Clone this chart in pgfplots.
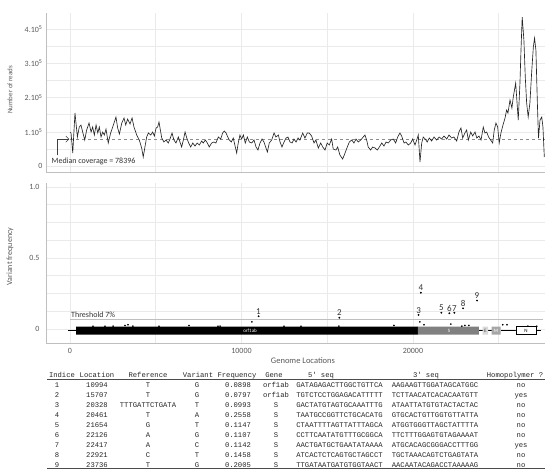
\documentclass[border=0pt]{standalone}
\usepackage{pgfplots}
\pgfplotsset{compat=1.18}
\usepackage{fontspec}
\setmainfont{Carlito}
\newfontfamily\tabfont{Liberation Mono}
\usetikzlibrary{arrows.meta}

\definecolor{gridc}{HTML}{EAEAEA}
\definecolor{axc}{HTML}{BFBFBF}
\definecolor{labc}{HTML}{595959}
\definecolor{sgray}{HTML}{808080}
\definecolor{egray}{HTML}{D9D9D9}
\definecolor{mgray}{HTML}{A6A6A6}

\pgfplotsset{
  panel/.style={
    scale only axis, anchor=south west, width=499pt,
    xmin=-1400, xmax=27700,
    axis x line*=bottom, axis y line*=left,
    axis line style={draw=axc, line width=0.8pt},
    major tick length=0pt, minor tick length=0pt,
    grid=both,
    major grid style={draw=gridc, line width=0.5pt},
    minor grid style={draw=gridc, line width=0.5pt},
    tick label style={font=\fontsize{8}{9}\selectfont, text=labc},
    scaled x ticks=false, scaled y ticks=false,
    clip=false,
  },
}

\begin{document}
\begin{tikzpicture}
\path[use as bounding box] (0pt,0pt) rectangle (550pt,475pt);

% coverage along the genome
\begin{axis}[panel,
  at={(46pt,303pt)}, height=159pt,
  ymin=-17500, ymax=447000,
  xtick={0,5000,...,25000}, xticklabels={},
  ytick={0,100000,200000,300000,400000},
  yticklabels={0,1.10\textsuperscript{5},2.10\textsuperscript{5},3.10\textsuperscript{5},4.10\textsuperscript{5}},
  minor ytick={50000,150000,250000,350000},
  ylabel={Number of reads},
  ylabel style={at={(axis description cs:-0.072,0.516)}, anchor=center, font=\fontsize{7}{8}\selectfont, text=labc},
]
\addplot[black!45, dashed, line width=0.6pt] coordinates {(0,78396) (27660,78396)};
\addplot[black!85, line width=0.65pt] coordinates {
(0,99300) (60,96400) (160,38000) (290,154800) (430,84700) (540,113900) (640,119700) (740,99300) (860,75900) (970,105100)
(1110,125600) (1230,99300) (1320,113900) (1420,90500) (1520,119700) (1620,96400) (1710,113900) (1810,84700) (1910,99300) (2000,90500)
(2100,108000) (2230,67200) (2370,96400) (2530,119700) (2680,143100) (2780,111000) (2880,93400) (3020,125600) (3150,140200) (3250,119700)
(3360,137200) (3500,122600) (3620,140200) (3730,113900) (3890,90500) (4040,75900) (4180,52600) (4270,26300) (4370,55500) (4470,84700)
(4570,96400) (4710,90500) (4820,99300) (4920,87600) (5020,111000) (5110,113900) (5190,128500) (5250,111000) (5350,81800) (5480,70100)
(5600,75900) (5730,67200) (5830,78800) (5950,96400) (6060,75900) (6180,67200) (6320,84700) (6410,70100) (6510,55500) (6610,75900)
(6710,99300) (6810,81800) (6920,67200) (7040,55500) (7160,67200) (7290,58400) (7420,67200) (7540,61300) (7680,73000) (7770,67200)
(7890,75900) (8010,67200) (8120,55500) (8260,67200) (8400,70100) (8510,67200) (8650,84700) (8790,78800) (8900,96400) (9000,102200)
(9100,96400) (9200,84700) (9290,75900) (9410,70100) (9520,81800) (9640,55500) (9720,38000) (9810,67200) (9910,90500) (10010,78800)
(10110,90500) (10220,67200) (10340,84700) (10460,70100) (10600,67200) (10730,75900) (10850,55500) (10960,46700) (11080,67200) (11200,78800)
(11310,70100) (11430,52600) (11510,40900) (11620,67200) (11760,75900) (11900,96400) (12010,84700) (12150,90500) (12250,70100) (12360,55500)
(12480,70100) (12600,81800) (12710,84700) (12830,70100) (12950,67200) (13060,78800) (13180,70100) (13300,81800) (13410,75900) (13570,96400)
(13700,81800) (13840,96400) (13950,96400) (14090,87600) (14230,67200) (14340,75900) (14480,52600) (14620,67200) (14740,55500) (14870,46700)
(15000,67200) (15120,61300) (15260,78800) (15350,49600) (15510,46700) (15610,55500) (15740,32100) (15900,20400) (16040,38000) (16170,55500)
(16290,70100) (16430,75900) (16560,67200) (16680,78800) (16810,70100) (16950,75900) (17100,84700) (17200,90500) (17300,75900) (17390,55500)
(17530,46700) (17650,55500) (17790,52600) (17920,46700) (18040,55500) (18180,67200) (18310,58400) (18430,70100) (18560,67200) (18700,75900)
(18850,78800) (18990,67200) (19110,84700) (19240,96400) (19340,87600) (19480,67200) (19590,70100) (19730,61300) (19870,67200) (19980,78800)
(20120,61300) (20220,75900) (20310,90500) (20410,11700) (20510,67200) (20600,84700) (20720,78800) (20830,70100) (20950,81800) (21090,73000)
(21230,84700) (21380,75900) (21530,84700) (21670,78800) (21810,87600) (21970,78800) (22100,90500) (22260,81800) (22390,84700) (22550,73000)
(22680,99300) (22800,111000) (22900,81800) (23030,96400) (23130,105100) (23230,75900) (23370,99300) (23480,87600) (23620,99300) (23720,81800)
(23850,87600) (23970,75900) (24100,113900) (24200,96400) (24300,99300) (24410,84700) (24530,75900) (24650,67200) (24740,105100) (24840,125600)
(24940,113900) (25030,67200) (25130,96400) (25250,119700) (25370,140200) (25460,163500) (25540,154800) (25660,192700) (25770,169400) (25850,201500)
(25990,242400) (26140,134300) (26240,242400) (26300,338700) (26370,435100) (26470,367900) (26550,259900) (26630,184000) (26720,143100) (26820,184000)
(26920,271600) (27020,347500) (27090,373800) (27170,338700) (27250,192700) (27320,81800) (27410,134300) (27510,143100) (27580,113900) (27660,26300)
};
\draw[black!75, line width=0.6pt, -{Straight Barb[length=3pt,width=6pt]}]
  (axis cs:-760,31000) -- (axis cs:-760,78396) -- (axis cs:-40,78396);
\node[anchor=west, inner sep=0pt, font=\fontsize{8}{9}\selectfont, text=black!80]
  at (axis cs:-1080,14000) {Median coverage = 78396};
\end{axis}

% variant frequencies and genome map
\begin{axis}[panel,
  at={(46pt,132pt)}, height=160pt,
  ymin=-0.0986, ymax=1.028,
  xtick={0,10000,20000}, xticklabels={0,10000,20000},
  minor xtick={5000,15000,25000},
  ytick={0,0.5,1}, yticklabels={0,0.5,1.0},
  minor ytick={0.125,0.25,0.375,0.625,0.75,0.875},
  xticklabel style={yshift=-2pt},
  yticklabel style={xshift=-3pt},
  xlabel={Genome Locations},
  xlabel style={at={(axis description cs:0.515,-0.113)}, anchor=center, font=\fontsize{8.5}{9}\selectfont, text=labc},
  ylabel={Variant frequency},
  ylabel style={at={(axis description cs:-0.072,0.54)}, anchor=center, font=\fontsize{8}{9}\selectfont, text=labc},
]
\addplot[axc, line width=0.8pt] coordinates {(0,0.07) (27600,0.07)};
\node[anchor=south west, inner sep=1pt, font=\fontsize{8}{9}\selectfont, text=black!80]
  at (axis cs:0,0.07) {Threshold 7\%};

% genome map
\addplot[black, line width=0.6pt] coordinates {(-100,-0.008) (350,-0.008)};
\addplot[black, line width=0.6pt] coordinates {(23850,-0.012) (24060,-0.012)};
\addplot[black, line width=0.6pt] coordinates {(24380,-0.012) (24590,-0.012)};
\addplot[black, line width=0.6pt] coordinates {(25110,-0.012) (26000,-0.012)};
\addplot[black, line width=0.6pt] coordinates {(27170,-0.012) (27460,-0.012)};
\addplot[draw=none, fill=black] coordinates {(350,-0.04) (20290,-0.04) (20290,0.016) (350,0.016) (350,-0.04)};
\addplot[draw=none, fill=sgray] coordinates {(20290,-0.04) (23850,-0.04) (23850,0.016) (20290,0.016) (20290,-0.04)};
\addplot[draw=none, fill=egray] coordinates {(24060,-0.04) (24380,-0.04) (24380,0.016) (24060,0.016) (24060,-0.04)};
\addplot[draw=none, fill=mgray] coordinates {(24590,-0.04) (25110,-0.04) (25110,0.016) (24590,0.016) (24590,-0.04)};
\addplot[black, line width=0.5pt, fill=white] coordinates {(26000,-0.04) (27170,-0.04) (27170,0.016) (26000,0.016) (26000,-0.04)};
\node[font=\fontsize{5}{5}\selectfont, text=white] at (axis cs:10500,-0.012) {orf1ab};
\node[font=\fontsize{5}{5}\selectfont, text=white] at (axis cs:22100,-0.012) {S};
\node[font=\fontsize{5}{5}\selectfont, text=black!70] at (axis cs:24220,-0.012) {E};
\node[font=\fontsize{5}{5}\selectfont, text=white] at (axis cs:24850,-0.012) {M};
\node[font=\fontsize{5}{5}\selectfont, text=black] at (axis cs:26590,-0.012) {N};

% variants under the threshold
\addplot[only marks, mark=*, mark size=0.6pt, black] coordinates {
(1340,0.02) (2040,0.02) (2510,0.02) (3210,0.025) (3380,0.03) (3670,0.02) (5190,0.02) (6940,0.025)
(8630,0.02) (8750,0.02) (10610,0.05) (12480,0.02) (13470,0.02) (15680,0.02) (18890,0.025) (20400,0.05)
(20640,0.03) (22210,0.035) (22850,0.02) (23030,0.025) (23260,0.025) (25240,0.03) (25480,0.03) (26700,0.02) (27220,0.02)
};
% variants over the threshold
\addplot[only marks, mark=*, mark size=0.7pt, black,
  nodes near coords, point meta=explicit symbolic,
  every node near coord/.style={font=\fontsize{9}{9}\selectfont, text=black!80, inner sep=1.5pt}]
coordinates {
(10994,0.0898) [1] (15707,0.0797) [2] (20328,0.0993) [3] (20461,0.2558) [4] (21654,0.1147) [5]
(22126,0.1107) [6] (22417,0.1142) [7] (22921,0.1458) [8] (23736,0.2005) [9]
};
\end{axis}

% table of variants
\begin{scope}[every node/.style={anchor=base, inner sep=0pt, font=\tabfont\fontsize{7.2}{8}\selectfont, text=black!85}]
\node at (62pt,97pt) {Indice};
\node at (97pt,97pt) {Location};
\node at (148pt,97pt) {Reference};
\node at (198pt,97pt) {Variant};
\node at (237pt,97pt) {Frequency};
\node at (274pt,97pt) {Gene};
\node at (321pt,97pt) {5' seq};
\node at (426pt,97pt) {3' seq};
\node at (515pt,97pt) {Homopolymer ?};
\draw[black!70, line width=0.6pt] (47pt,95.5pt) -- (545pt,95.5pt);
\foreach \a/\b/\c/\d/\e/\f/\g/\h/\k [count=\r from 0] in {
 1/10994/T/G/0.0898/orf1ab/GATAGAGACTTGGCTGTTCA/AAGAAGTTGGATAGCATGGC/no,
 2/15707/T/G/0.0797/orf1ab/TGTCTCCTGGAGACATTTTT/TCTTAACATCACACAATGTT/yes,
 3/20328/TTTGATTCTGATA/T/0.0993/S/GACTATGTAGTGCAAATTTG/ATAATTATGTGTACTACTAC/no,
 4/20461/T/A/0.2558/S/TAATGCCGGTTCTGCACATG/GTGCACTGTTGGTGTTATTA/no,
 5/21654/G/T/0.1147/S/CTAATTTTAGTTATTTAGCA/ATGGTGGGTTAGCTATTTTA/no,
 6/22126/A/G/0.1107/S/CCTTCAATATGTTTGCGGCA/TTCTTTGGAGTGTAGAAAAT/no,
 7/22417/A/C/0.1142/S/AACTGATGCTGAATATAAAA/ATGCACAGCGGGACCTTTGG/yes,
 8/22921/C/T/0.1458/S/ATCACTCTCAGTGCTAGCCT/TGCTAAACAGTCTGAGTATA/no,
 9/23736/T/G/0.2005/S/TTGATAATGATGTGGTAACT/AACAATACAGACCTAAAAAG/no}{
  \pgfmathsetmacro{\yy}{87.5-10*\r}
  \node at (57pt,\yy pt) {\a};
  \node at (97pt,\yy pt) {\b};
  \node at (148pt,\yy pt) {\c};
  \node at (197pt,\yy pt) {\d};
  \node at (238pt,\yy pt) {\e};
  \node at (276pt,\yy pt) {\f};
  \node at (339.5pt,\yy pt) {\g};
  \node at (435pt,\yy pt) {\h};
  \node at (521pt,\yy pt) {\k};
}
\draw[black!70, line width=1.2pt] (47pt,6.3pt) -- (545pt,6.3pt);
\end{scope}
\end{tikzpicture}
\end{document}
